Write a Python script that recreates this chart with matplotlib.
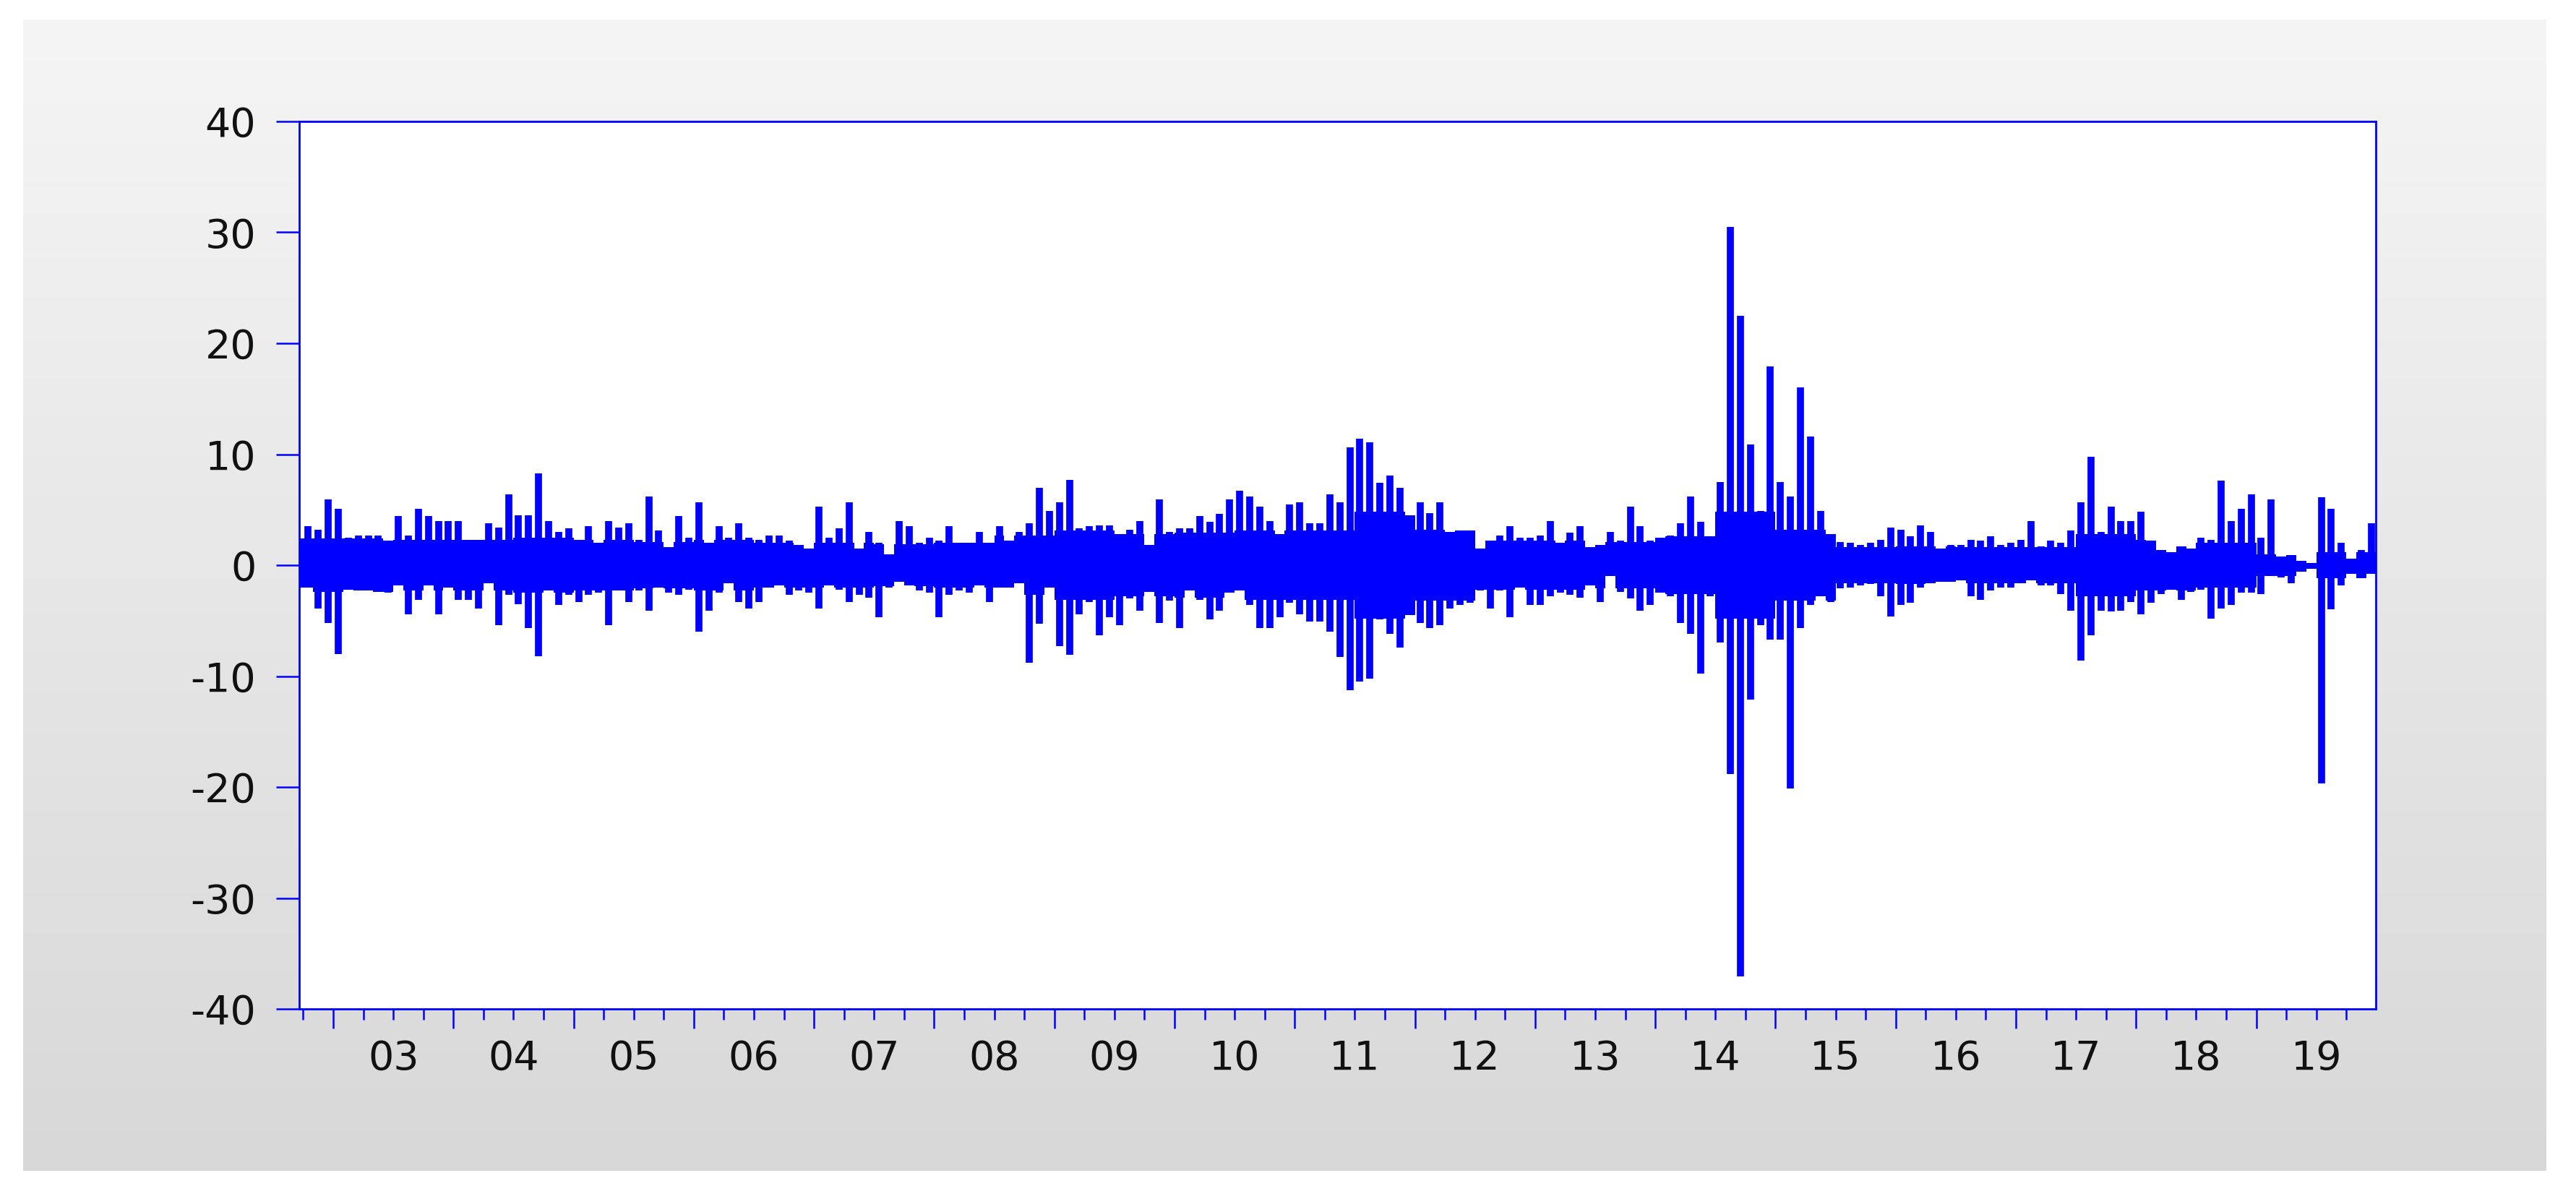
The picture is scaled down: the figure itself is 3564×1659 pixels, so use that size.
import numpy as np
import matplotlib
matplotlib.use("Agg")
import matplotlib.pyplot as plt
from matplotlib.colors import LinearSegmentedColormap

# ---------------- data (monthly extremes) ----------------
# first month = Oct 2002, last month = Dec 2019
start_year = 2002
start_month = 10

month_high = [
    3.5, 3.2, 5.9, 5.1, 2.5, 2.7, 2.7, 2.7, 2.2, 4.4,
    2.7, 5.1, 4.4, 4.0, 4.0, 4.0, 2.3, 2.3, 3.8, 3.4,
    6.4, 4.5, 4.5, 8.3, 4.0, 3.0, 3.3, 2.3, 3.5, 2.0,
    4.0, 3.4, 3.8, 2.3, 6.2, 3.1, 1.6, 4.4, 2.5, 5.7,
    2.0, 3.5, 2.5, 3.8, 2.5, 2.3, 2.7, 2.7, 2.2, 1.8,
    1.5, 5.3, 2.5, 3.3, 5.7, 1.5, 3.0, 2.0, 1.0, 4.0,
    3.5, 2.0, 2.5, 2.2, 3.5, 2.0, 2.0, 3.0, 2.0, 3.5,
    2.2, 3.0, 3.8, 7.0, 4.9, 5.7, 7.7, 3.3, 3.5, 3.6,
    3.6, 2.8, 3.2, 4.0, 1.8, 5.9, 3.0, 3.3, 3.3, 4.4,
    3.9, 4.6, 5.9, 6.7, 6.2, 5.3, 4.0, 2.8, 5.5, 5.7,
    3.8, 3.8, 6.4, 5.7, 10.6, 11.4, 11.1, 7.4, 8.1, 7.0,
    4.5, 5.7, 4.7, 5.7, 3.0, 3.1, 3.1, 1.5, 2.2, 2.7,
    3.5, 2.5, 2.5, 2.7, 4.0, 2.0, 2.9, 3.5, 1.6, 1.8,
    3.0, 2.2, 5.3, 3.5, 2.2, 2.5, 2.7, 3.8, 6.2, 3.9,
    2.6, 7.5, 30.5, 22.5, 10.9, 4.9, 17.9, 7.5, 6.2, 16.0,
    11.6, 4.9, 2.8, 2.1, 2.0, 1.8, 2.0, 2.3, 3.4, 3.2,
    2.6, 3.6, 3.0, 1.5, 1.8, 1.8, 2.3, 2.2, 2.6, 1.8,
    2.0, 2.3, 4.0, 1.7, 2.2, 2.0, 3.1, 5.7, 9.8, 3.0,
    5.3, 4.0, 4.0, 4.8, 2.2, 1.4, 1.2, 1.7, 1.5, 2.5,
    2.3, 7.6, 4.0, 5.1, 6.4, 2.5, 5.9, 0.8, 0.9, 0.4,
    0.2, 6.1, 5.1, 2.0, 0.6, 1.4, 3.8,
]

month_low = [
    -2.0, -3.9, -5.2, -8.0, -2.2, -2.3, -2.3, -2.4, -2.5, -1.8,
    -4.4, -3.1, -1.8, -4.4, -2.0, -3.1, -3.1, -3.9, -1.6, -5.4,
    -2.7, -3.5, -5.7, -8.2, -2.3, -3.6, -2.7, -3.3, -2.7, -2.5,
    -5.4, -2.3, -3.3, -2.3, -4.1, -2.0, -2.5, -2.7, -2.2, -6.0,
    -4.1, -2.5, -1.6, -3.3, -3.9, -3.3, -2.0, -1.8, -2.7, -2.3,
    -2.5, -3.9, -1.8, -2.2, -3.3, -2.7, -2.9, -4.7, -2.0, -1.5,
    -1.8, -2.3, -2.5, -4.7, -2.7, -2.3, -2.5, -1.8, -3.3, -2.0,
    -2.0, -1.6, -8.8, -5.3, -2.0, -7.3, -8.1, -4.4, -3.3, -6.3,
    -4.7, -5.4, -3.0, -4.1, -2.4, -5.2, -3.2, -5.7, -2.3, -3.1,
    -4.9, -4.1, -2.5, -2.3, -3.6, -5.7, -5.7, -4.7, -3.4, -4.4,
    -5.1, -5.1, -6.0, -8.3, -11.3, -10.5, -10.2, -4.9, -6.2, -7.4,
    -4.5, -5.2, -5.7, -5.4, -3.9, -3.6, -3.4, -2.3, -3.9, -2.3,
    -4.7, -2.0, -3.6, -3.6, -2.8, -2.5, -2.7, -2.9, -1.8, -3.3,
    -1.0, -2.4, -3.0, -4.1, -3.6, -2.5, -2.8, -5.2, -6.2, -9.8,
    -2.8, -7.0, -18.8, -37.1, -12.1, -5.4, -6.7, -6.7, -20.1, -5.7,
    -3.6, -2.8, -3.3, -2.1, -2.0, -1.8, -1.7, -2.8, -4.6, -3.6,
    -3.4, -2.0, -1.6, -1.5, -1.5, -1.4, -2.8, -3.1, -2.3, -2.0,
    -2.0, -1.6, -1.4, -1.8, -1.8, -2.6, -4.1, -8.6, -6.3, -4.1,
    -4.2, -4.1, -3.3, -4.4, -3.4, -2.6, -2.2, -3.1, -2.4, -2.2,
    -4.8, -3.9, -3.6, -2.5, -2.5, -2.6, -1.0, -1.1, -1.6, -0.6,
    -0.3, -19.7, -4.0, -1.8, -0.8, -1.2, -0.8,
]

# typical (dense) amplitude of the daily band, per half year, 2002H2 .. 2019H2
band_amplitude = [
    2.4,
    2.4, 2.3, 2.3, 2.5, 2.3, 2.1, 2.3, 2.0, 2.0, 1.9,
    2.0, 2.7, 3.1, 2.8, 2.9, 3.1, 3.1, 4.8, 3.2, 2.2,
    2.2, 2.1, 2.6, 4.8, 3.2, 1.6, 1.7, 1.6, 1.6, 2.8,
    2.3, 2.0, 1.0, 1.2,
]

year_labels = ["03", "04", "05", "06", "07", "08", "09", "10", "11",
               "12", "13", "14", "15", "16", "17", "18", "19"]
label_years = list(range(2003, 2020))
y_ticks = [-40, -30, -20, -10, 0, 10, 20, 30, 40]
y_tick_labels = ["-40", "-30", "-20", "-10", "0", "10", "20", "30", "40"]

# ---------------- derived positions ----------------
hi = np.array(month_high)
lo = np.array(month_low)
n = len(hi)
t0 = start_year + (start_month - 1) / 12.0
x_left, x_right = 2002.717, 2019.995
edges = t0 + np.arange(n + 1) / 12.0
edges[0] = x_left
centers = t0 + (np.arange(n) + 0.5) / 12.0

abs_month = start_year * 12 + (start_month - 1) + np.arange(n)
half_idx = (abs_month // 12 - 2002) * 2 + (abs_month % 12) // 6 - 1
amp = np.array(band_amplitude)[half_idx]
core_hi = np.minimum(hi, amp)
core_lo = np.maximum(lo, -amp)

# ---------------- figure ----------------
W, H, DPI = 3564, 1659, 100
fig = plt.figure(figsize=(W / DPI, H / DPI), dpi=DPI, facecolor="white")

# grey gradient panel
bg = fig.add_axes([32 / W, 1 - 1620 / H, (3523 - 32) / W, (1620 - 27) / H], zorder=0)
grad = np.linspace(0, 1, 256).reshape(-1, 1)
cmap = LinearSegmentedColormap.from_list("g", ["#f5f5f5", "#d8d8d8"])
bg.imshow(grad, aspect="auto", cmap=cmap, extent=[0, 1, 0, 1], origin="upper")
bg.axis("off")

ax = fig.add_axes([414 / W, 1 - 1396 / H, (3287 - 414) / W, (1396 - 168) / H], zorder=1)
ax.set_facecolor("white")

blue = "#0000ff"
ax.stairs(core_hi, edges, baseline=core_lo, fill=True, color=blue, linewidth=0)
ax.vlines(centers, lo, hi, colors=blue, linewidth=7.0)

ax.set_xlim(x_left, x_right)
ax.set_ylim(-40, 40)

for s in ax.spines.values():
    s.set_color(blue)
    s.set_linewidth(2.0)

ax.set_yticks(y_ticks)
ax.set_yticklabels(y_tick_labels)
ax.tick_params(axis="y", which="major", direction="out", length=23, width=1.8,
               color=blue, pad=20, labelsize=40, labelcolor="#111111")

year_starts = list(range(2003, 2020))
quarters = [y + q for y in range(2002, 2020) for q in (0.25, 0.5, 0.75)
            if x_left <= y + q <= x_right]
ax.set_xticks(year_starts)
ax.set_xticks(quarters, minor=True)
ax.tick_params(axis="x", which="major", direction="out", length=19.5, width=1.8,
               color=blue, labelbottom=False)
ax.tick_params(axis="x", which="minor", direction="out", length=10.8, width=1.8,
               color=blue)
ax.tick_params(axis="y", which="minor", left=False)

for yr, lab in zip(label_years, year_labels):
    ax.text(yr + 0.5, -0.0684, lab, transform=ax.get_xaxis_transform(),
            ha="center", va="baseline", fontsize=40, color="#111111",
            family="DejaVu Sans")

fig.savefig("out.png", dpi=DPI)
